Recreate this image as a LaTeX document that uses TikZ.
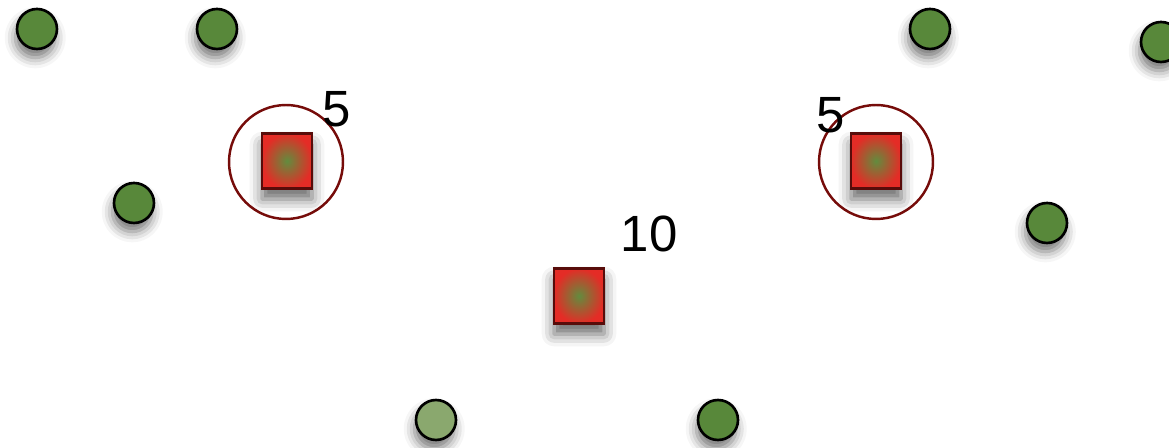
\documentclass[tikz,border=0pt]{standalone}
\usepackage{fontspec}
\setmainfont{Liberation Sans}
\usetikzlibrary{shadows.blur}
\definecolor{leafgreen}{RGB}{88,136,58}
\definecolor{palegreen}{RGB}{138,168,110}
\definecolor{boxred}{RGB}{228,44,38}
\definecolor{boxcore}{RGB}{98,140,62}
\definecolor{ringred}{RGB}{118,12,10}
\definecolor{edgered}{RGB}{88,12,10}
\tikzset{
  dot/.style={circle, draw=black, line width=1.5pt, fill=leafgreen, minimum size=0.8cm, inner sep=0pt,
    blur shadow={shadow xshift=-1pt, shadow yshift=-5pt, shadow blur radius=6pt, shadow opacity=55}},
  site/.style={rectangle, draw=edgered, line width=1.3pt, minimum width=1cm, minimum height=1.1cm, inner sep=0pt,
    inner color=boxcore, outer color=boxred,
    blur shadow={shadow xshift=0pt, shadow yshift=-6pt, shadow blur radius=7pt, shadow opacity=60}},
  ring/.style={circle, draw=ringred, line width=1.4pt, minimum size=2.28cm, inner sep=0pt},
  count/.style={font=\fontsize{29}{30}\selectfont, inner sep=0pt}
}
\begin{document}
\begin{tikzpicture}[x=0.02cm, y=-0.02cm]
  \useasboundingbox (0,0) rectangle (1169,448);
  % covering rings
  \node[ring] (ringL) at (286,162) {};
  \node[ring] (ringR) at (876,162) {};
  % green points
  \foreach \name/\px/\py in {p1/37/29, p2/217/29, p3/930/29, p4/1161/42, p5/134/203, p6/1047/223, p8/718/420}
    \node[dot] (\name) at (\px,\py) {};
  \node[dot, fill=palegreen] (p7) at (436,420) {};
  % red sites
  \node[site] (sL) at (287,161) {};
  \node[site] (sR) at (876,161) {};
  \node[site] (sC) at (579,296) {};
  % weights
  \node[count] (wL) at (337,109) {5};
  \node[count] (wR) at (831,115) {5};
  \node[count] (wC) at (649,234) {10};
\end{tikzpicture}
\end{document}
